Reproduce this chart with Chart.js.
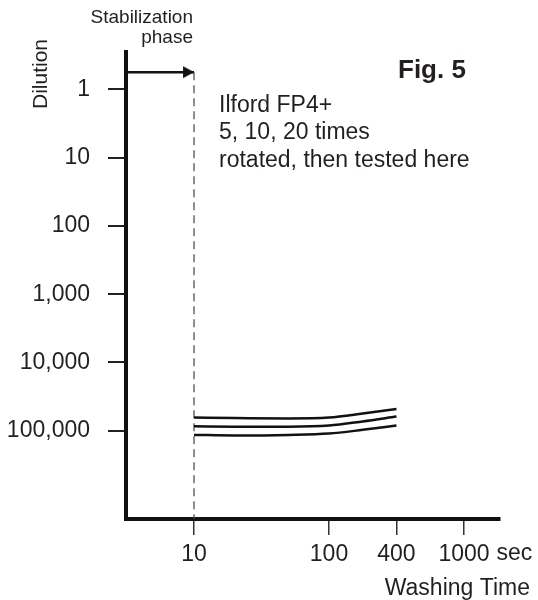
<!DOCTYPE html>
<html>
<head>
<meta charset="utf-8">
<script src="https://cdn.jsdelivr.net/npm/chart.js@4.4.1/dist/chart.umd.min.js"></script>
<style>
  html, body { margin: 0; padding: 0; background: #fff; }
  #wrap { width: 538px; height: 600px; }
</style>
</head>
<body>
<div id="wrap"><canvas id="chart" width="538" height="600"></canvas></div>
<script>
// washing time (sec) and dilution
const washSeconds = [10, 20, 50, 100, 200, 400];
const dilution5x = [64000, 65000, 66000, 64000, 56000, 48000];
const dilution10x = [86000, 87000, 87000, 84000, 73000, 62000];
const dilution20x = [115000, 117000, 115000, 110000, 97000, 84000];

const timeTicks = [10, 100, 400, 1000];
const timeTickLabels = ["10", "100", "400", "1000"];
const timeTickPos = [1, 2, 2.5, 3]; // the figure's time axis is not a true log scale
const dilutionTicks = [1, 10, 100, 1000, 10000, 100000];
const dilutionTickLabels = ["1", "10", "100", "1,000", "10,000", "100,000"];

const stabilizationEnd = 10;
const arrowLevel = 0.56;
const xMin = 0.496, xMax = 3.267;
const yMin = 0.284, yMax = 1.96e6;

const FONT = "'Liberation Sans', Arial, sans-serif";
const INK = "#231f20";

// seconds -> axis position, log interpolation between the figure's tick anchors
function toPos(t) {
  let i = 0;
  while (i < timeTicks.length - 2 && t > timeTicks[i + 1]) i++;
  const a = timeTicks[i], b = timeTicks[i + 1];
  const f = (Math.log10(t) - Math.log10(a)) / (Math.log10(b) - Math.log10(a));
  return timeTickPos[i] + f * (timeTickPos[i + 1] - timeTickPos[i]);
}

function series(vals) {
  return washSeconds.map((t, i) => ({ x: toPos(t), y: vals[i] }));
}

// arrow head with its tip at the canvas centre
const arrowHead = document.createElement("canvas");
arrowHead.width = 24;
arrowHead.height = 14;
(function () {
  const c = arrowHead.getContext("2d");
  c.fillStyle = "#111";
  c.beginPath();
  c.moveTo(12, 7);
  c.lineTo(1, 1);
  c.lineTo(1, 13);
  c.closePath();
  c.fill();
})();

const curveStyle = {
  borderColor: "#111",
  borderWidth: 2.5,
  pointRadius: 0,
  cubicInterpolationMode: "monotone",
  fill: false
};

const notes = {
  id: "notes",
  afterDraw(chart) {
    const ctx = chart.ctx;
    const xs = chart.scales.x;
    ctx.save();
    ctx.fillStyle = INK;
    ctx.textBaseline = "alphabetic";

    ctx.font = "19px " + FONT;
    ctx.textAlign = "right";
    ctx.fillText("Stabilization", 193, 23);
    ctx.fillText("phase", 193, 43);

    ctx.font = "23px " + FONT;
    ctx.textAlign = "left";
    ctx.fillText("Ilford FP4+", 219, 112);
    ctx.fillText("5, 10, 20 times", 219, 139);
    ctx.fillText("rotated, then tested here", 219, 167);

    ctx.font = "bold 26px " + FONT;
    ctx.fillText("Fig. 5", 398, 78);

    ctx.font = "23px " + FONT;
    const p1000 = xs.getPixelForValue(toPos(1000));
    ctx.fillText("sec", p1000 + ctx.measureText("1000").width / 2 + 7, 560);

    ctx.textAlign = "right";
    ctx.fillText("Washing Time", 530, 595);

    ctx.translate(47, 74);
    ctx.rotate(-Math.PI / 2);
    ctx.textAlign = "center";
    ctx.font = "21px " + FONT;
    ctx.fillText("Dilution", 0, 0);
    ctx.restore();
  }
};

new Chart(document.getElementById("chart"), {
  type: "line",
  data: {
    datasets: [
      Object.assign({ label: "5 times", data: series(dilution5x) }, curveStyle),
      Object.assign({ label: "10 times", data: series(dilution10x) }, curveStyle),
      Object.assign({ label: "20 times", data: series(dilution20x) }, curveStyle),
      {
        label: "stabilization limit",
        data: [
          { x: toPos(stabilizationEnd), y: arrowLevel },
          { x: toPos(stabilizationEnd), y: yMax }
        ],
        borderColor: "#444",
        borderWidth: 1.2,
        borderDash: [8, 5],
        pointRadius: 0
      },
      {
        label: "stabilization phase",
        data: [
          { x: xMin, y: arrowLevel },
          { x: toPos(stabilizationEnd), y: arrowLevel }
        ],
        borderColor: "#111",
        borderWidth: 2.5,
        pointStyle: arrowHead,
        pointRadius: [0, 8],
        clip: false
      }
    ]
  },
  options: {
    responsive: false,
    animation: false,
    events: [],
    layout: { padding: { left: 0, right: 38, top: 52, bottom: 0 } },
    plugins: {
      legend: { display: false },
      tooltip: { enabled: false }
    },
    scales: {
      x: {
        type: "linear",
        min: xMin,
        max: xMax,
        afterFit: (s) => { s.height = 81; },
        afterBuildTicks: (s) => {
          s.ticks = timeTicks.map((t) => ({ value: toPos(t) }));
        },
        ticks: {
          callback: (v, i) => timeTickLabels[i],
          color: INK,
          font: { family: FONT, size: 23 },
          padding: 6,
          maxRotation: 0,
          autoSkip: false
        },
        grid: {
          drawOnChartArea: false,
          tickLength: 16,
          lineWidth: 1.5,
          color: "#333"
        },
        border: { display: true, width: 4, color: "#111" }
      },
      y: {
        type: "logarithmic",
        reverse: true,
        min: yMin,
        max: yMax,
        afterFit: (s) => { s.width = 126; },
        afterBuildTicks: (s) => {
          s.ticks = dilutionTicks.map((v) => ({ value: v }));
        },
        ticks: {
          callback: (v, i) => dilutionTickLabels[i],
          color: INK,
          font: { family: FONT, size: 23 },
          padding: 18,
          autoSkip: false
        },
        grid: {
          drawOnChartArea: false,
          tickLength: 18,
          lineWidth: 2,
          color: "#222"
        },
        border: { display: true, width: 4, color: "#111" }
      }
    }
  },
  plugins: [notes]
});
</script>
</body>
</html>
